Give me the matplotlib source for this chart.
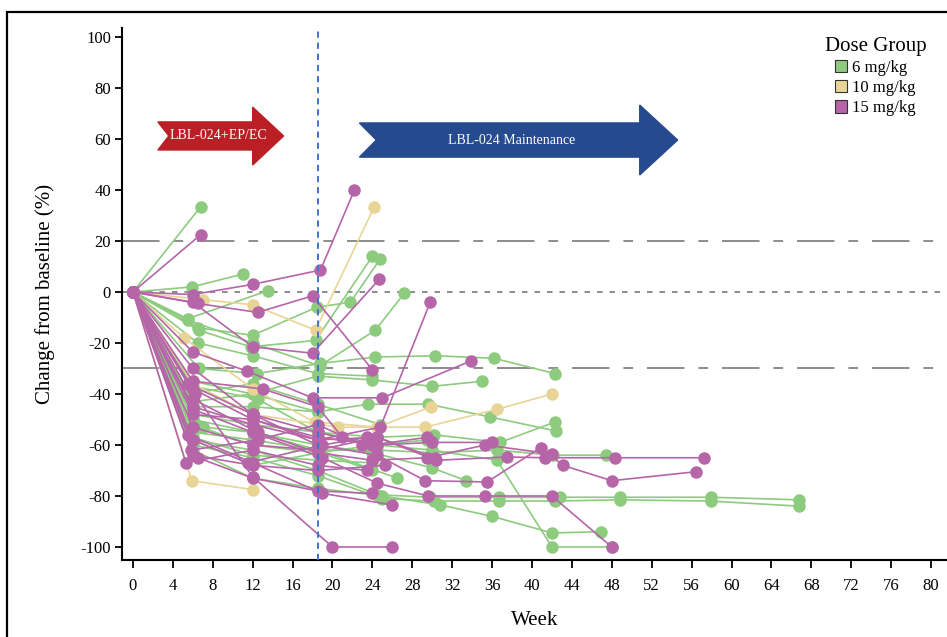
import matplotlib.pyplot as plt
from matplotlib.patches import Polygon, Patch, Rectangle

plt.rcParams['font.family'] = ['Liberation Serif', 'DejaVu Serif']
plt.rcParams['lines.scale_dashes'] = False
plt.rcParams['axes.unicode_minus'] = False

dose_labels = ["6 mg/kg", "10 mg/kg", "15 mg/kg"]
dose_colors = ["#8dcb7e", "#e8d596", "#b565a8"]

# each subject: (weeks, % change from baseline)
subjects_6mg = [
    ([0, 6.8], [0, 33.5]),
    ([0, 5.9, 11], [0, 2, 7]),
    ([0, 5.5, 13.5], [0, -10.5, 0.5]),
    ([0, 6.5, 12, 18.4, 21.8, 24.8], [0, -14, -17, -6, -4, 13]),
    ([0, 6.6, 11.8, 18.3, 24], [0, -15, -21.5, -19, 14]),
    ([0, 5.5, 12, 18.7, 24.3, 27.2], [0, -11, -20, -29, -15, -0.5]),
    ([0, 6.6, 12.4, 18.8, 24.3, 30.3, 36.2, 42.3], [0, -30, -32, -28, -25.5, -25, -26, -32]),
    ([0, 6, 12, 18.5, 24, 30, 35], [0, -43, -40, -33, -34.5, -37, -35]),
    ([0, 6, 12, 18.5, 23.6, 29.6, 35.8, 42.4], [0, -45, -45, -47, -44, -44, -49, -54.5]),
    ([0, 6, 12, 18.5, 24.5, 30.2, 36.8, 42.3], [0, -48, -52, -55, -57, -56, -59, -51]),
    ([0, 6, 12, 18.5, 24.5, 30, 36.5, 42.1, 47.4], [0, -55, -58, -62, -62, -63, -62, -64, -64]),
    ([0, 6, 12, 18.5, 24.5, 29.8, 36.7, 42.8, 48.8, 57.9, 66.8],
     [0, -58, -62, -70, -79.5, -80.5, -80.5, -80.5, -80.5, -80.5, -81.5]),
    ([0, 6, 12, 18.5, 25, 30.2, 36.7, 42.3, 48.8, 57.9, 66.8],
     [0, -60, -65, -72, -81, -82, -82, -82, -81.5, -82, -84]),
    ([0, 6, 12, 18.5, 25, 30.8, 36, 42, 46.9], [0, -62, -73, -77, -80, -83.5, -88, -94.5, -94]),
    ([0, 6, 12, 18.5, 24.5, 30, 36.5, 42, 48], [0, -52, -60, -63, -60, -62, -66, -100, -100]),
    ([0, 5.5, 12, 18.5, 24.8], [0, -40, -36, -44, -52]),
    ([0, 6, 12.5, 18.5, 24.5, 29.5], [0, -37, -42, -55, -60, -58]),
    ([0, 7, 12, 18.6, 26.5], [0, -53, -55, -62, -73]),
    ([0, 6, 12, 18.7, 24], [0, -57, -64, -66, -67]),
    ([0, 6, 12, 18.5, 24, 30, 33.4], [0, -50, -55, -60, -63, -69, -74]),
    ([0, 6, 12, 18.5], [0, -35, -40, -47]),
    ([0, 6.5, 12, 18.5, 24], [0, -20, -25, -32, -33]),
    ([0, 6, 12, 18.7, 24], [0, -58, -68, -63, -70]),
]

subjects_10mg = [
    ([0, 7, 12, 18.3, 24.2], [0, -3, -5, -15, 33.5]),
    ([0, 5.1, 12, 18.2, 24.5, 29.9], [0, -18, -38, -51, -53, -45]),
    ([0, 6, 12, 20.6, 24.8, 29.3, 36.5, 42], [0, -36, -48, -53, -53, -53, -46, -40]),
    ([0, 5.9, 12], [0, -74, -77.5]),
]

subjects_15mg = [
    ([0, 6.8], [0, 22.5]),
    ([0, 6, 12, 18.8, 22.2], [0, -1, 3, 8.6, 40]),
    ([0, 6.5, 12.5, 18, 24], [0, -4.5, -8, -1.5, -30.5]),
    ([0, 6, 12, 18, 24.7], [0, -4, -21.5, -24, 5]),
    ([0, 6, 11.4, 18, 25, 33.9], [0, -23.5, -31, -41.5, -41.5, -27]),
    ([0, 6, 12, 18.5, 24.8, 29.8], [0, -45, -52, -58, -53, -4]),
    ([0, 6.2, 12, 20, 26], [0, -40, -72.5, -100, -100]),
    ([0, 5.5, 12, 19, 26], [0, -56, -67, -79, -83.5]),
    ([0, 6, 12, 19, 24.5, 29.6, 35.3, 42, 48], [0, -46, -55, -65, -75, -80, -80, -80, -100]),
    ([0, 5.5, 12, 18.5, 24.5, 29.3, 35.5, 40.9, 43.1, 48, 56.4],
     [0, -36, -48, -60, -64, -74, -74.5, -61, -68, -74, -70.5]),
    ([0, 6, 12, 18.5, 24.5, 30.4, 37.5, 41.3, 48.3, 57.2],
     [0, -38, -50, -58, -57, -66, -64.7, -65, -65, -65]),
    ([0, 6, 12.5, 18.5, 24, 29.5, 35.3, 42], [0, -42, -55, -63, -66, -65, -60, -63.5]),
    ([0, 5.3, 12, 18.5, 23.5], [0, -67, -62, -68, -70]),
    ([0, 6, 13, 18.5, 21], [0, -35, -38, -45, -57]),
    ([0, 6, 12, 18.5, 24, 29.5], [0, -30, -48, -55, -60, -57]),
    ([0, 6, 12, 18.5, 24.5, 30.3], [0, -53, -60, -62, -57, -65]),
    ([0, 6, 12, 18.5, 25.3], [0, -64, -68, -70, -68]),
    ([0, 6.5, 12, 18.5, 24], [0, -65, -73, -78, -79]),
    ([0, 6, 11.5, 19, 23.5], [0, -58, -67, -60, -57]),
    ([0, 5.8, 12.5, 18.5, 23], [0, -62, -58, -52, -60]),
    ([0, 6, 12, 18.5, 24.5, 30, 36], [0, -48, -50, -57, -60, -59, -59]),
]

x_ticks = list(range(0, 81, 4))
y_ticks = list(range(-100, 101, 20))
ref_lines = [20, -30]
maintenance_start = 18.55

fig = plt.figure(figsize=(9.47, 6.37), dpi=100)
ax = fig.add_axes([0.1288, 0.1209, 0.8712, 0.835])

# reference lines
for yv in ref_lines:
    ax.axhline(yv, color="#8c8c8c", lw=1.4, dashes=(27, 10, 7, 10), zorder=1)
ax.axhline(0, color="#8c8c8c", lw=1.4, dashes=(4, 5), zorder=1)

for subjects, color in zip([subjects_6mg, subjects_10mg, subjects_15mg], dose_colors):
    for weeks, vals in subjects:
        ax.plot(weeks, vals, color=color, lw=1.2, marker="o", markersize=9,
                markeredgewidth=0, zorder=3)

ax.axvline(maintenance_start, color="#4472c4", lw=1.4, dashes=(4.5, 3.5), zorder=4)

# phase arrows
red_arrow = [(2.5, 66.7), (12.0, 66.7), (12.0, 72.5), (15.1, 61.2), (12.0, 49.8),
             (12.0, 55.7), (2.5, 55.7), (3.6, 61.2)]
ax.add_patch(Polygon(red_arrow, closed=True, color="#bb1e24", zorder=5))
ax.text(8.6, 61.2, "LBL-024+EP/EC", color="white", fontsize=10,
        ha="center", va="center", zorder=6)
blue_arrow = [(22.7, 66.3), (50.8, 66.3), (50.8, 73.3), (54.6, 59.6), (50.8, 45.9),
              (50.8, 52.9), (22.7, 52.9), (24.4, 59.6)]
ax.add_patch(Polygon(blue_arrow, closed=True, color="#264a8e", zorder=5))
ax.text(38.0, 59.6, "LBL-024 Maintenance", color="white", fontsize=10,
        ha="center", va="center", zorder=6)

ax.set_xlim(-1.1, 81.6)
ax.set_ylim(-105.1, 103.5)
ax.set_xticks(x_ticks)
ax.set_yticks(y_ticks)
ax.spines["top"].set_visible(False)
ax.spines["right"].set_visible(False)
ax.spines["left"].set_linewidth(1.5)
ax.spines["bottom"].set_linewidth(1.5)
ax.tick_params(axis="y", length=5, width=1.3, labelsize=12, pad=3)
ax.tick_params(axis="x", length=6, width=1.3, labelsize=12, pad=7)
ax.set_xlabel("Week", fontsize=15, labelpad=12)
ax.set_ylabel("Change from baseline (%)", fontsize=15, labelpad=18)

handles = [Patch(facecolor=c, edgecolor="#333333", linewidth=0.8) for c in dose_colors]
ax.legend(handles, dose_labels, title="Dose Group", loc="upper right",
          bbox_to_anchor=(0.993, 1.012), frameon=False, fontsize=12,
          title_fontsize=15, handlelength=0.75, handleheight=0.75,
          handletextpad=0.3, labelspacing=0.25)

# outer frame
fig.add_artist(Rectangle((7 / 947, -0.1), 1.0, 1.1 - 12 / 637, transform=fig.transFigure,
                         fill=False, edgecolor="black", linewidth=1.6, clip_on=False))

fig.savefig("out.png", dpi=100)
